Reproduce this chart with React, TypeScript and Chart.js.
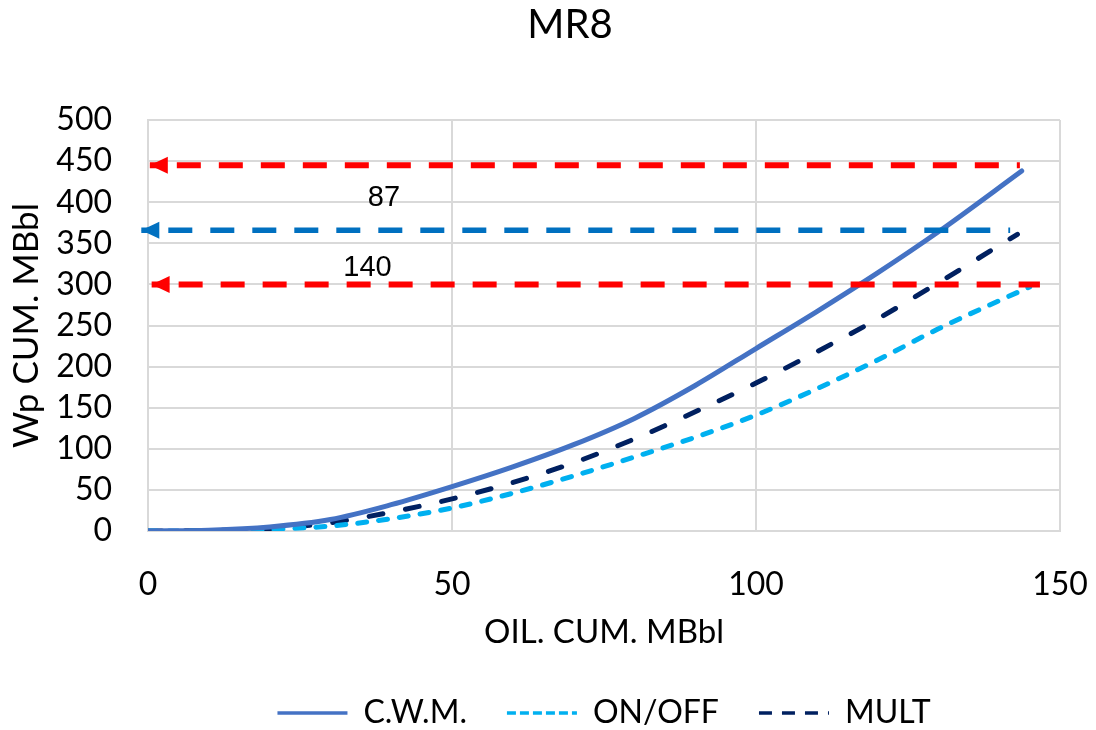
import React, { useEffect, useRef } from "react";
import { Chart, registerables } from "chart.js";

Chart.register(...registerables);

const chartTitle = "MR8";
const xAxisTitle = "OIL. CUM. MBbl";
const yAxisTitle = "Wp CUM. MBbl";
const seriesNames = ["C.W.M.", "ON/OFF", "MULT"];

const cwmX = [0, 10, 20, 30, 40, 50, 60, 70, 80, 90, 100, 110, 120, 130, 143.7];
const cwmY = [0, 1, 5, 14, 32, 54, 78, 105, 137, 177, 222, 267, 314, 364, 438];

const onoffX = [0, 10, 20, 30, 40, 50, 60, 70, 80, 90, 100, 110, 120, 130, 145];
const onoffY = [0, 0, 2, 6, 15, 28, 46, 67, 90, 114, 141, 173, 208, 246, 297];

const multX = [0, 10, 20, 30, 40, 50, 60, 70, 80, 90, 100, 110, 120, 130, 143];
const multY = [0, 0.5, 3, 10, 23, 39, 59, 83, 112, 145, 180, 218, 258, 302, 361];

const arrowLevels = [445, 366, 300];
const arrowFrom = [0.3, -1.1, 0.6];
const arrowTo = [143.4, 141.8, 146.7];
const arrowColors = ["#FF0000", "#0070C0", "#FF0000"];

const noteTexts = ["87", "140"];
const noteX = [38.8, 36.1];
const noteY = [405.5, 320.5];

const xMin = 0, xMax = 150, xStep = 50;
const yMin = 0, yMax = 500, yStep = 50;

const seriesColors = ["#4472C4", "#00B0F0", "#002060"];
const seriesDash = [[], [9, 12], [14, 23]];
const legendDash = [[], [9, 4], [13, 10]];

const toPoints = (xs: number[], ys: number[]) => xs.map((x, i) => ({ x, y: ys[i] }));

const arrowPlugin = {
  id: "arrowHeads",
  afterDatasetsDraw(chart: any) {
    const ctx = chart.ctx;
    chart.data.datasets.forEach((ds: any, i: number) => {
      if (!ds.isArrow) return;
      const meta = chart.getDatasetMeta(i);
      const p = meta.data[0];
      if (!p) return;
      ctx.save();
      ctx.fillStyle = ds.borderColor;
      ctx.beginPath();
      ctx.moveTo(p.x, p.y);
      ctx.lineTo(p.x + 18, p.y - 8.5);
      ctx.lineTo(p.x + 18, p.y + 8.5);
      ctx.closePath();
      ctx.fill();
      ctx.restore();
    });
    const xs = chart.scales.x;
    const ys = chart.scales.y;
    ctx.save();
    ctx.fillStyle = "#000";
    ctx.font = "29px 'Liberation Sans', Arial, sans-serif";
    ctx.textAlign = "center";
    ctx.textBaseline = "middle";
    noteTexts.forEach((t, i) => {
      ctx.fillText(t, xs.getPixelForValue(noteX[i]), ys.getPixelForValue(noteY[i]));
    });
    ctx.restore();
  },
};

export default function App() {
  const ref = useRef<HTMLCanvasElement | null>(null);

  useEffect(() => {
    if (!ref.current) return;
    Chart.defaults.font.family = "Lato, 'Noto Sans', sans-serif";
    Chart.defaults.color = "#000";

    const arrowSets = arrowLevels.map((lv, i) => ({
      label: "arrow" + i,
      isArrow: true,
      data: [
        { x: arrowFrom[i], y: lv },
        { x: arrowTo[i], y: lv },
      ],
      borderColor: arrowColors[i],
      backgroundColor: arrowColors[i],
      borderWidth: i === 1 ? 5.5 : 6,
      borderDash: [24, 18],
      borderDashOffset: 15,
      borderCapStyle: "butt",
      pointRadius: 0,
      tension: 0,
      clip: false,
    }));

    const seriesData = [toPoints(cwmX, cwmY), toPoints(onoffX, onoffY), toPoints(multX, multY)];
    const seriesSets = seriesNames.map((name, i) => ({
      label: name,
      data: seriesData[i],
      borderColor: seriesColors[i],
      backgroundColor: seriesColors[i],
      borderWidth: 5,
      borderDash: seriesDash[i],
      borderCapStyle: "round",
      pointRadius: 0,
      cubicInterpolationMode: "monotone",
      fill: false,
    }));

    const chart = new Chart(ref.current, {
      type: "line",
      data: { datasets: [...arrowSets, ...seriesSets] as any },
      plugins: [arrowPlugin],
      options: {
        animation: false,
        responsive: false,
        devicePixelRatio: 1,
        layout: { padding: { left: 80, right: 36, top: 0, bottom: 0 } },
        plugins: {
          tooltip: { enabled: false },
          title: {
            display: true,
            text: chartTitle,
            color: "#000",
            font: { size: 40, weight: "normal" },
            padding: { top: 1, bottom: 71 },
          },
          legend: {
            display: true,
            position: "bottom",
            fullSize: false,
            maxHeight: 73,
            labels: {
              usePointStyle: true,
              pointStyleWidth: 70,
              boxHeight: 10,
              padding: 40,
              color: "#000",
              font: { size: 32 },
              generateLabels: (c: any) => {
                const items = (Chart.defaults.plugins.legend.labels as any).generateLabels(c);
                return items
                  .filter((it: any) => !c.data.datasets[it.datasetIndex].isArrow)
                  .map((it: any) => {
                    const k = it.datasetIndex - arrowLevels.length;
                    return {
                      ...it,
                      pointStyle: "line",
                      lineWidth: 3.5,
                      lineDash: legendDash[k],
                      lineCap: "butt",
                      strokeStyle: seriesColors[k],
                      fillStyle: seriesColors[k],
                    };
                  });
              },
            },
          },
        },
        scales: {
          x: {
            type: "linear",
            min: xMin,
            max: xMax,
            afterFit: (s: any) => {
              s.height = 126;
              s.paddingRight = 0;
              s.paddingLeft = 0;
            },
            ticks: { stepSize: xStep, padding: 34, autoSkip: false, font: { size: 32 }, color: "#000" },
            grid: { color: "#D9D9D9", lineWidth: 2, drawTicks: false },
            border: { display: true, color: "#D9D9D9", width: 2 },
            title: {
              display: true,
              text: xAxisTitle,
              color: "#000",
              font: { size: 33 },
              padding: { top: 0, bottom: 5 },
            },
          },
          y: {
            type: "linear",
            min: yMin,
            max: yMax,
            afterFit: (s: any) => {
              s.width = 68;
              s._computeLabelArea = () => undefined;
            },
            ticks: { stepSize: yStep, padding: 36, autoSkip: false, font: { size: 32 }, color: "#000" },
            grid: { color: "#D9D9D9", lineWidth: 2, drawTicks: false },
            border: { display: true, color: "#D9D9D9", width: 2 },
            title: {
              display: true,
              text: yAxisTitle,
              color: "#000",
              font: { size: 35 },
              padding: { top: -74, bottom: 0 },
            },
          },
        },
      } as any,
    });
    return () => chart.destroy();
  }, []);

  return (
    <div style={{ position: "absolute", left: 0, top: 0, width: 1096, height: 730, background: "#fff" }}>
      <canvas ref={ref} width={1096} height={730} style={{ width: 1096, height: 730, display: "block" }} />
    </div>
  );
}
